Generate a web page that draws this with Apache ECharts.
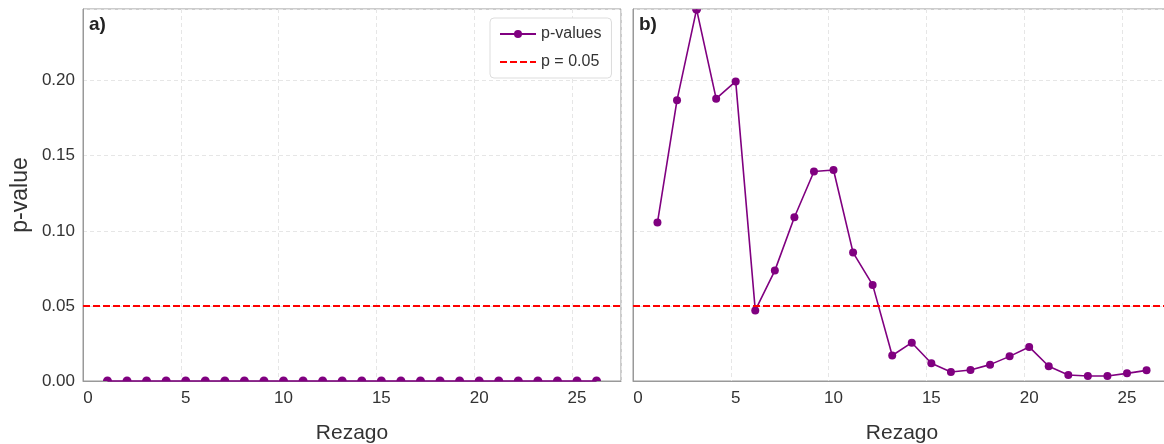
<!DOCTYPE html>
<html><head><meta charset="utf-8">
<script src="https://cdn.jsdelivr.net/npm/echarts@6/dist/echarts.min.js"></script>
<style>html,body{margin:0;padding:0;background:#fff;overflow:hidden}#c{width:1172px;height:444px}</style>
</head><body><div id="c"></div>
<script>
const lags = [1,2,3,4,5,6,7,8,9,10,11,12,13,14,15,16,17,18,19,20,21,22,23,24,25,26];
const pvalsA = [0,0,0,0,0,0,0,0,0,0,0,0,0,0,0,0,0,0,0,0,0,0,0,0,0,0];
const pvalsB = [0.1055,0.187,0.2475,0.188,0.1995,0.047,0.0735,0.109,0.1395,0.1405,0.0855,0.064,0.017,0.0255,0.0118,0.006,0.0073,0.0109,0.0164,0.0227,0.0098,0.004,0.0033,0.0033,0.0051,0.0071];
const threshold = 0.05;
const xTicks = [0, 5, 10, 15, 20, 25];
const panelLabels = ['a)', 'b)'];

const FONT = '"Liberation Sans", Arial, sans-serif';
const PURPLE = '#800080';
const Y_MIN = 0, Y_MAX = 0.2477;
const HALF_UP = 'path://M0,10 A10,10 0 0 1 20,10 Z';
const HALF_DOWN = 'path://M0,0 A10,10 0 0 0 20,0 Z';
const grids = [
  {left: 83, top: 9, width: 538, height: 372},
  {left: 633, top: 9, width: 538, height: 372}
];
function xAx(i){
  return {type:'value', gridIndex:i, min:-0.25, max:27.25, interval:5,
    name:'Rezago', nameLocation:'middle', nameGap:42,
    nameTextStyle:{fontFamily:FONT, fontSize:21, color:'#333'},
    axisLine:{show:true, onZero:false, lineStyle:{color:'#999', width:1}},
    axisTick:{show:false},
    axisLabel:{fontFamily:FONT, fontSize:17, color:'#333', margin:9,
      customValues: xTicks, formatter: v => String(v)},
    splitLine:{show:true, lineStyle:{color:'#e6e6e6', type:[4,3], width:1}},
  };
}
function yAx(i){
  return {type:'value', gridIndex:i, min:Y_MIN, max:Y_MAX, interval:0.05,
    name: i===0 ? 'p-value' : '', nameLocation:'middle', nameGap:51,
    nameTextStyle:{fontFamily:FONT, fontSize:23, color:'#333'},
    axisLine:{show:true, onZero:false, lineStyle:{color:'#999', width:1}},
    axisTick:{show:false},
    axisLabel:{show: i===0, fontFamily:FONT, fontSize:17, color:'#333', margin:8,
      showMaxLabel:false, formatter: v => v.toFixed(2)},
    splitLine:{show:true, lineStyle:{color:'#e6e6e6', type:[4,3], width:1}},
  };
}
function pSeries(i, vals){
  // points lying on the plot edge are drawn half-clipped, like the reference
  const data = lags.map((l,k)=>{
    const v = vals[k];
    if (v <= Y_MIN + 1e-4) return {value:[l,v], symbol:HALF_UP, symbolSize:[9,4.5], symbolOffset:[0,-2.25]};
    if (v >= Y_MAX - 1e-3) return {value:[l,v], symbol:HALF_DOWN, symbolSize:[9,4.5], symbolOffset:[0,2.25]};
    return {value:[l,v]};
  });
  return {type:'line', name:'p-values', xAxisIndex:i, yAxisIndex:i,
    data, symbol:'circle', symbolSize:8, clip:false,
    lineStyle:{color:PURPLE, width:1.6}, itemStyle:{color:PURPLE},
    z:3, emphasis:{disabled:true}};
}
function thrSeries(i){
  return {type:'line', name:'p = 0.05', xAxisIndex:i, yAxisIndex:i, data:[],
    symbol:'none', showSymbol:false,
    lineStyle:{color:'#ff0000', width:2, type:[7,3]}, itemStyle:{color:'#ff0000'},
    markLine:{silent:true, symbol:'none', label:{show:false},
      lineStyle:{color:'#ff0000', width:2, type:[7,3]},
      data:[{yAxis: threshold}]}, z:2};
}
const chart = echarts.init(document.getElementById('c'), null, {renderer:'canvas'});
chart.setOption({
  animation:false,
  backgroundColor:'#fff',
  grid: grids.map(g => Object.assign({show:true, borderColor:'#999', borderWidth:1, backgroundColor:'transparent', outerBoundsMode:'none', containLabel:false}, g)),
  xAxis:[xAx(0), xAx(1)],
  yAxis:[yAx(0), yAx(1)],
  legend:{
    data:[{name:'p-values', itemStyle:{opacity:1}},{name:'p = 0.05', itemStyle:{opacity:0}}],
    orient:'vertical', left:490, top:18,
    itemWidth:36, itemHeight:10, itemGap:12,
    padding:[8,10,8,9],
    borderColor:'#ddd', borderWidth:1, borderRadius:4, backgroundColor:'#fff',
    textStyle:{fontFamily:FONT, fontSize:16, color:'#333'}
  },
  title: panelLabels.map((t,i)=>({text:t, left: grids[i].left + 6, top: 15,
    textStyle:{fontFamily:FONT, fontSize:19, fontWeight:'bold', color:'#222'}, padding:0})),
  series:[pSeries(0,pvalsA), thrSeries(0), pSeries(1,pvalsB), thrSeries(1)]
});
</script></body></html>
